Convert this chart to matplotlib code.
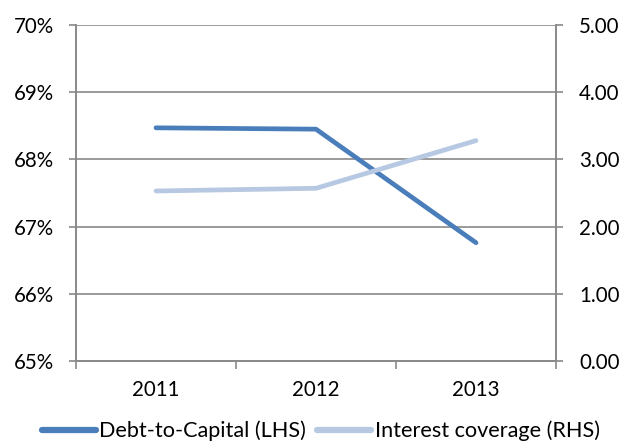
import matplotlib
matplotlib.use("Agg")
import matplotlib.pyplot as plt
from matplotlib.ticker import FixedLocator

years = ["2011", "2012", "2013"]
debt_to_capital = [68.47, 68.45, 66.76]
interest_coverage = [2.53, 2.57, 3.28]

left_ticks = [65, 66, 67, 68, 69, 70]
right_ticks = [0, 1, 2, 3, 4, 5]

plt.rcParams['font.family'] = ['Lato', 'DejaVu Sans']
grid_col = '#898989'
dark = '#4a7ebb'
light = '#b7c8e2'
fs = 14.8

fig = plt.figure(figsize=(6.23, 4.43), dpi=100)
ax = fig.add_axes([76/623, 1 - 361/443, 480/623, 336/443])
ax2 = ax.twinx()

x = list(range(len(years)))
ax.plot(x, debt_to_capital, color=dark, lw=3.4, solid_capstyle='round',
        solid_joinstyle='round', label='Debt-to-Capital (LHS)', zorder=3)
ax2.plot(x, interest_coverage, color=light, lw=3.4, solid_capstyle='round',
         solid_joinstyle='round', label='Interest coverage (RHS)', zorder=2)

ax.set_xlim(-0.5, 2.5)
ax.set_ylim(65, 70)
ax2.set_ylim(0, 5)
ax.set_yticks(left_ticks)
ax.set_yticklabels([f"{t}%" for t in left_ticks])
ax2.set_yticks(right_ticks)
ax2.set_yticklabels([f"{t:.2f}" for t in right_ticks])
ax.set_xticks(x)
ax.set_xticklabels(years)
ax.xaxis.set_minor_locator(FixedLocator([-0.5, 0.5, 1.5, 2.5]))
ax.tick_params(axis='x', which='major', length=0, pad=14, labelsize=fs)
ax.tick_params(axis='x', which='minor', length=6, color=grid_col, width=1.2)
ax.tick_params(axis='y', length=5, color=grid_col, width=1.2, labelsize=fs, pad=11)
ax2.tick_params(axis='y', length=5, color=grid_col, width=1.2, labelsize=fs, pad=11.5)

ax.grid(axis='y', color=grid_col, lw=1.2)
ax.set_axisbelow(True)
for a in (ax, ax2):
    a.spines['top'].set_visible(False)
    for s in ('left', 'right', 'bottom'):
        a.spines[s].set_color(grid_col)
        a.spines[s].set_linewidth(1.2)

h1, l1 = ax.get_legend_handles_labels()
h2, l2 = ax2.get_legend_handles_labels()
leg = fig.legend(h1 + h2, l1 + l2, loc='center', bbox_to_anchor=(0.515, 1 - 431/443),
                 ncol=2, frameon=False, fontsize=15.6, handlelength=2.5,
                 handletextpad=0.15, columnspacing=0.5)
for ln in leg.get_lines():
    ln.set_linewidth(4.5)

fig.savefig("out.png", dpi=100)
